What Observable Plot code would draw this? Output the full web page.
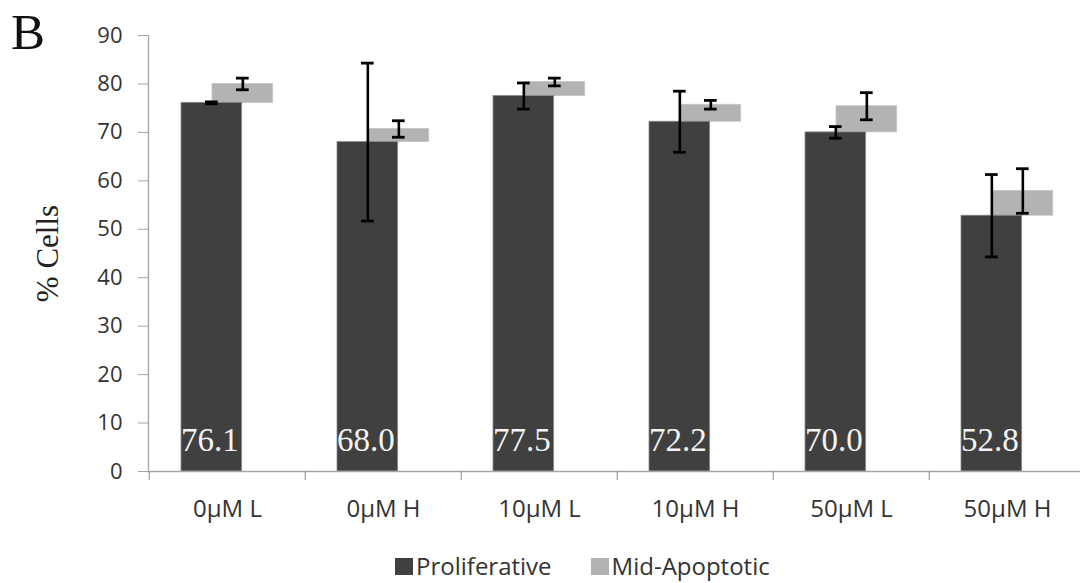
<!DOCTYPE html>
<html><head><meta charset="utf-8">
<script src="https://cdn.jsdelivr.net/npm/d3@7"></script>
<script src="https://cdn.jsdelivr.net/npm/@observablehq/plot@0.6"></script>
<style>
body{margin:0;background:#fff;}
#wrap{position:relative;width:1080px;height:583px;overflow:hidden;background:#fff;}
#panel{position:absolute;left:11px;top:4px;font-family:"Liberation Serif",serif;font-size:51px;line-height:1.1;color:#111;}
#legend{position:absolute;left:395px;top:554px;display:flex;align-items:center;font-family:"Open Sans",sans-serif;font-size:24px;color:#333;line-height:1;}
#legend .sw{width:18px;height:17px;display:inline-block;margin-right:3px;}
#legend .item{display:flex;align-items:center;margin-right:39px;}
</style></head><body>
<div id="wrap"><div id="panel">B</div></div>
<script>
const categories = ["0μM L","0μM H","10μM L","10μM H","50μM L","50μM H"];
const proliferative = [76.1, 68.0, 77.5, 72.2, 70.0, 52.8];
const midApoptotic = [3.9, 2.7, 2.9, 3.5, 5.4, 5.1];
const proliferativeErr = [0.2, 16.3, 2.7, 6.3, 1.2, 8.5];
const midApoptoticErr = [1.2, 1.7, 0.8, 0.9, 2.8, 4.6];
const yTicks = [0,10,20,30,40,50,60,70,80,90];
const seriesNames = ["Proliferative","Mid-Apoptotic"];
const seriesColors = ["#404040","#b3b3b3"];

const data = categories.map((c,i)=>({
  cat:c, p:proliferative[i], m:midApoptotic[i],
  top:proliferative[i]+midApoptotic[i],
  pe:proliferativeErr[i], me:midApoptoticErr[i]
}));

const xRange = [148, 1086];
const bw = (xRange[1]-xRange[0])/categories.length;
const barW = 61;
const darkL = 32, lightL = 63;
const darkC = darkL + barW/2, lightC = lightL + barW/2;
const capW = 13;
const axisGray = "#a6a6a6";

const errMarks = (lo, hi, c) => [
  Plot.ruleX(data, {x:"cat", y1:lo, y2:hi, dx:c-bw/2, stroke:"#000", strokeWidth:2.6}),
  Plot.tickY(data, {x:"cat", y:lo, insetLeft:c-capW/2, insetRight:bw-c-capW/2, stroke:"#000", strokeWidth:2.8}),
  Plot.tickY(data, {x:"cat", y:hi, insetLeft:c-capW/2, insetRight:bw-c-capW/2, stroke:"#000", strokeWidth:2.8})
];

const chart = Plot.plot({
  width:1080, height:530,
  marginLeft:148, marginRight:0, marginTop:35, marginBottom:59,
  style:{background:"transparent"},
  x:{type:"band", domain:categories, range:xRange, padding:0, axis:null},
  y:{domain:[0,90], axis:null},
  marks:[
    Plot.barY(data, {x:"cat", y1:"p", y2:"top", fill:seriesColors[1], insetLeft:lightL, insetRight:bw-lightL-barW, stroke:"#c4c4c4", strokeWidth:0.8}),
    Plot.barY(data, {x:"cat", y1:0, y2:"p", fill:seriesColors[0], insetLeft:darkL, insetRight:bw-darkL-barW, stroke:"#8a8a8a", strokeWidth:0.8}),
    Plot.frame({anchor:"left", stroke:axisGray, strokeWidth:1.3}),
    Plot.frame({anchor:"bottom", stroke:axisGray, strokeWidth:1.3}),
    Plot.axisY({ticks:yTicks, tickSize:10, tickPadding:16, stroke:axisGray, fill:"#333", fontSize:22, fontFamily:"Open Sans", label:null, tickFormat:d=>String(d)}),
    Plot.axisX({tickSize:0, tickPadding:28, fill:"#333", fontSize:24, fontFamily:"Open Sans", label:null}),
    Plot.axisX({tickSize:9, text:null, stroke:axisGray, strokeWidth:1.3, dx:-bw/2, label:null}),
    ...errMarks(d=>d.p-d.pe, d=>d.p+d.pe, darkC),
    ...errMarks(d=>d.top-d.me, d=>d.top+d.me, lightC),
    Plot.text(data, {x:"cat", frameAnchor:"bottom", text:d=>d.p.toFixed(1), dx:darkC-bw/2-2, dy:-31, lineAnchor:"middle", fill:"#f4f4f4", fontSize:33, fontFamily:"Liberation Serif"}),
    Plot.text(["% Cells"], {frameAnchor:"left", text:d=>d, rotate:-90, dx:-100, textAnchor:"middle", fill:"#222", fontSize:31, fontFamily:"Liberation Serif", lineAnchor:"middle"})
  ]
});
const wrap = document.getElementById("wrap");
chart.style.position = "absolute";
chart.style.left = "0"; chart.style.top = "0";
wrap.insertBefore(chart, wrap.firstChild);

const legend = document.createElement("div");
legend.id = "legend";
seriesNames.forEach((n,i)=>{
  const it = document.createElement("div"); it.className="item";
  const sw = document.createElement("span"); sw.className="sw"; sw.style.background = seriesColors[i];
  const t = document.createElement("span"); t.textContent = n;
  it.appendChild(sw); it.appendChild(t); legend.appendChild(it);
});
wrap.appendChild(legend);
</script>
</body></html>
